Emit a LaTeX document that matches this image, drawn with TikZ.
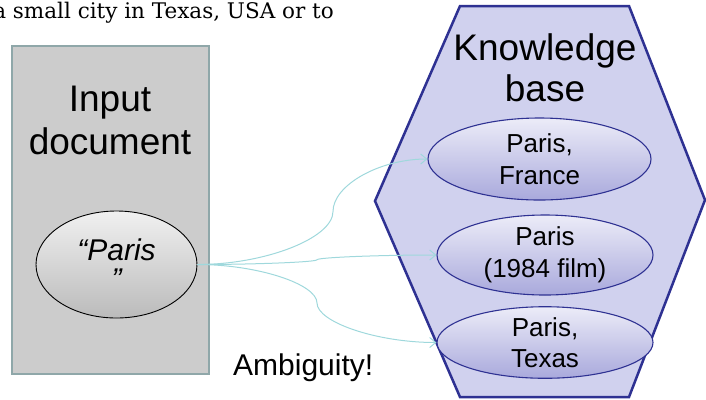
\documentclass[tikz,border=0pt]{standalone}
\usepackage{fontspec}
\setmainfont{Liberation Sans}
\newfontfamily\topserif{DejaVu Serif}
\usetikzlibrary{arrows.meta,shapes.geometric}
\definecolor{docfill}{HTML}{CCCCCC}
\definecolor{docline}{HTML}{8FA7A9}
\definecolor{kbfill}{HTML}{D0D1EE}
\definecolor{kbline}{HTML}{2E3192}
\definecolor{kbtop}{HTML}{ECECF8}
\definecolor{kbbot}{HTML}{A9A9DC}
\definecolor{qtop}{HTML}{F0F0F0}
\definecolor{qbot}{HTML}{BBBBBB}
\definecolor{linkcol}{HTML}{9FD8DC}
\begin{document}
\begin{tikzpicture}[x=1bp,y=-1bp,
  bigtext/.style={font=\fontsize{37bp}{43bp}\selectfont, align=center, inner sep=0pt},
  entity/.style={ellipse, draw=kbline, line width=1.1bp, top color=kbtop, bottom color=kbbot,
    inner sep=0pt, align=center, font=\fontsize{26bp}{31.5bp}\selectfont},
  linkarrow/.style={draw=linkcol, line width=1bp, -{Straight Barb[length=6bp,width=10bp]}}]
\useasboundingbox (0,0) rectangle (706,399);
\node[anchor=base east, font=\topserif\fontsize{21.5bp}{26bp}\selectfont, inner sep=0pt] (toptext) at (334,18.5) {a small city in Texas, USA or to};
\node[draw=docline, fill=docfill, line width=2.5bp, minimum width=197bp, minimum height=328bp, inner sep=0pt] (doc) at (110.5,210) {};
\node[bigtext] (doctext) at (110,120.5) {Input\\document};
\node[ellipse, draw=black, line width=0.9bp, top color=qtop, bottom color=qbot,
  minimum width=161bp, minimum height=107bp, inner sep=0pt, align=center,
  font=\itshape\fontsize{30bp}{29bp}\selectfont] (q) at (116.5,264.5) {“Paris\\”};
\draw[draw=kbline, fill=kbfill, line width=2.5bp, line join=miter]
  (460,6) -- (629,6) -- (705,200) -- (629,397) -- (460,397) -- (375,201) -- cycle;
\node[bigtext, font=\fontsize{37bp}{41.5bp}\selectfont] (kb) at (545,67.6) {Knowledge\\base};
\node[entity, minimum width=223bp, minimum height=82bp] (f) at (539.5,159) {Paris,\\France};
\node[entity, minimum width=216bp, minimum height=80bp] (m) at (545,255) {Paris\\(1984 film)};
\node[entity, minimum width=216bp, minimum height=61bp] (t) at (545,342.5) {Paris,\\Texas};
\node[anchor=base west, font=\fontsize{30bp}{36bp}\selectfont, inner sep=0pt] (amb) at (233,375) {Ambiguity!};
\coordinate (mf) at (333,211.5);
\coordinate (mm) at (317,259.75);
\coordinate (mt) at (317,303);
\draw[linkarrow] (q.east) .. controls +(68,0) and +(0,26.5) .. (mf) .. controls +(0,-26.5) and +(-47.5,0) .. (f.west);
\draw[linkarrow] (q.east) .. controls +(60,0) and +(0,2.2) .. (mm) .. controls +(0,-2.2) and +(-60,0) .. (m.west);
\draw[linkarrow] (q.east) .. controls +(60,0) and +(0,-19) .. (mt) .. controls +(0,19) and +(-60,0) .. (t.west);
\end{tikzpicture}
\end{document}
